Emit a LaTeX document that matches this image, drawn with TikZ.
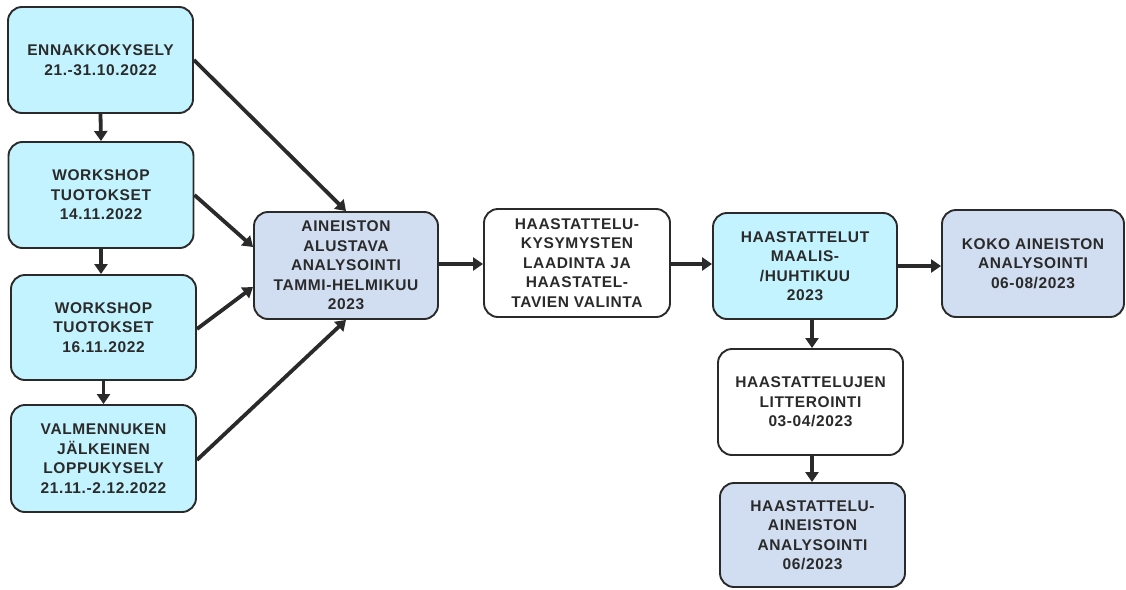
\documentclass[tikz,border=0pt]{standalone}
\usepackage{fontspec}
\setmainfont{Liberation Sans}
\usetikzlibrary{arrows.meta}
\definecolor{boxcyan}{HTML}{C3F3FE}
\definecolor{boxgrey}{HTML}{D1DDF0}
\definecolor{edge}{HTML}{2A2A2A}
\begin{document}
\begin{tikzpicture}[x=1pt,y=-1pt,
  box/.style={draw=edge, line width=1.9pt, rounded corners=14pt, align=center,
    inner sep=0pt, text=edge,
    font=\fontsize{15.5}{19.5}\selectfont\bfseries\addfontfeature{LetterSpace=4}},
  cyanbox/.style={box, fill=boxcyan},
  greybox/.style={box, fill=boxgrey},
  whitebox/.style={box, fill=white},
  arr/.style={draw=edge, line width=3.8pt, -{Triangle[length=10pt,width=13pt]}}]
\useasboundingbox (0,0) rectangle (1126,589);

% left column: surveys and workshops
\node[cyanbox, minimum width=185pt, minimum height=106pt] (enn) at (100.5,60)
  {ENNAKKOKYSELY\\21.-31.10.2022};
\node[cyanbox, minimum width=185pt, minimum height=106pt] (ws1) at (101,195)
  {WORKSHOP\\TUOTOKSET\\14.11.2022};
\node[cyanbox, minimum width=185pt, minimum height=105pt] (ws2) at (103.5,327.5)
  {WORKSHOP\\TUOTOKSET\\16.11.2022};
\node[cyanbox, minimum width=185pt, minimum height=107pt] (val) at (103.5,458.5)
  {VALMENNUKEN\\JÄLKEINEN\\LOPPUKYSELY\\21.11.-2.12.2022};

% main flow
\node[greybox, minimum width=184pt, minimum height=107pt] (ain) at (346,265.5)
  {AINEISTON\\ALUSTAVA\\ANALYSOINTI\\TAMMI-HELMIKUU\\2023};
\node[whitebox, minimum width=186pt, minimum height=108pt] (hk) at (577,263)
  {HAASTATTELU-\\KYSYMYSTEN\\LAADINTA JA\\HAASTATEL-\\TAVIEN VALINTA};
\node[cyanbox, minimum width=184pt, minimum height=106pt] (hm) at (805,266)
  {HAASTATTELUT\\MAALIS-\\/HUHTIKUU\\2023};
\node[greybox, minimum width=182pt, minimum height=107pt] (koko) at (1033,263.5)
  {KOKO AINEISTON\\ANALYSOINTI\\06-08/2023};

% interview branch
\node[whitebox, minimum width=185pt, minimum height=106pt] (lit) at (810.5,402)
  {HAASTATTELUJEN\\LITTEROINTI\\03-04/2023};
\node[greybox, minimum width=185pt, minimum height=104pt] (haa) at (812.5,535)
  {HAASTATTELU-\\AINEISTON\\ANALYSOINTI\\06/2023};

% connectors
\draw[arr] (enn.south) -- (ws1.north);
\draw[arr] (ws1.south) -- (ws1.south |- ws2.north);
\draw[arr] (ws2.south) -- (ws2.south |- val.north);

\draw[arr] (enn.east) -- (ain.north);
\draw[arr] (ws1.east) -- (ain.west |- 0,247);
\draw[arr] (ws2.east |- 0,329) -- (ain.west |- 0,287);
\draw[arr] (val.east |- 0,460) -- (ain.south);

\draw[arr] (ain.east |- 0,264) -- (hk.west |- 0,264);
\draw[arr] (hk.east |- 0,264) -- (hm.west |- 0,264);
\draw[arr] (hm.east |- 0,266) -- (koko.west |- 0,266);

\draw[arr] (hm.south -| 812,0) -- (lit.north -| 812,0);
\draw[arr] (lit.south -| 812,0) -- (haa.north -| 812,0);
\end{tikzpicture}
\end{document}
